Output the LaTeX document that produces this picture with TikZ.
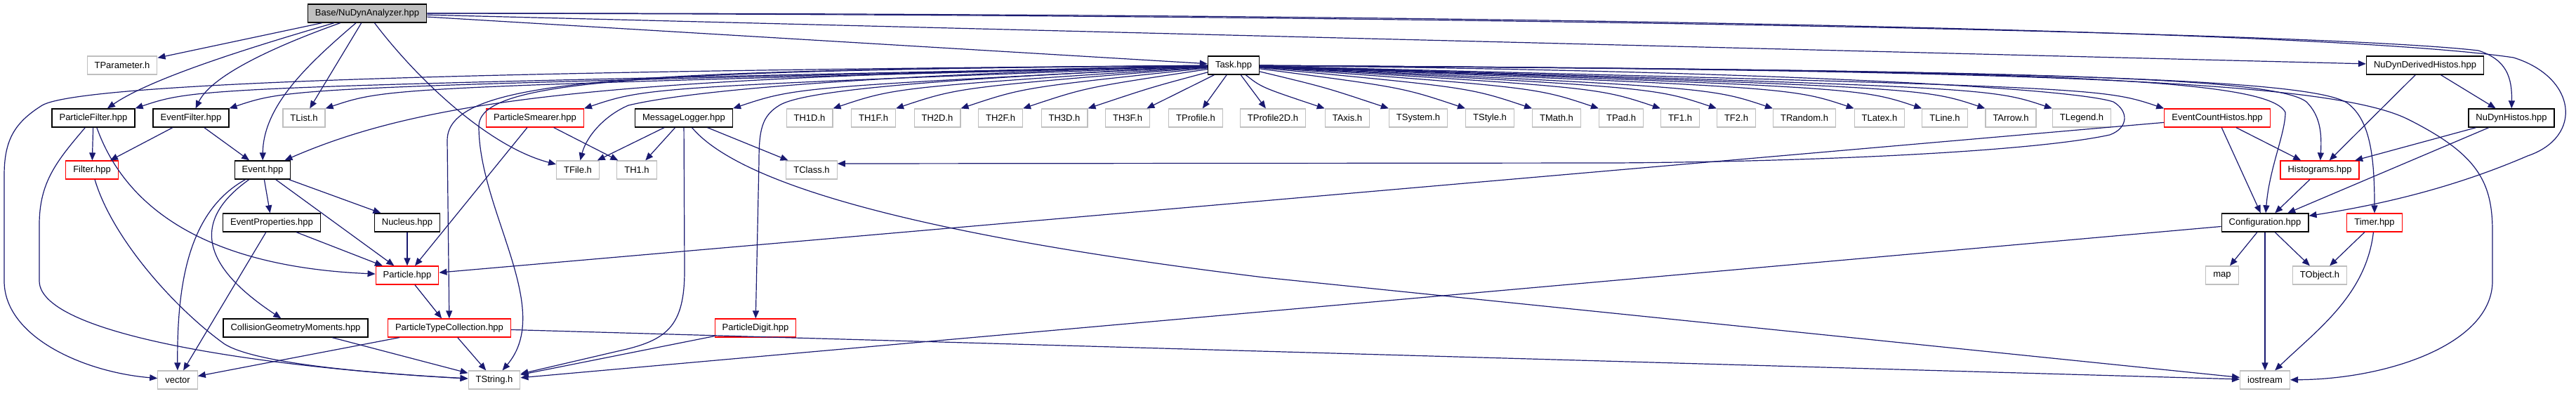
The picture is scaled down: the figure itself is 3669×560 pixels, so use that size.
\documentclass[tikz,border=0pt]{standalone}
\usepackage{fontspec}
\setmainfont{Liberation Sans}
\usetikzlibrary{arrows.meta,calc}
\definecolor{edgec}{HTML}{191970}
\definecolor{sysborder}{HTML}{BFBFBF}
\definecolor{truncborder}{HTML}{FF0000}
\definecolor{rootfill}{HTML}{BFBFBF}

\begin{document}
\begin{tikzpicture}[
  x=1pt, y=-1pt,
  font=\fontsize{13}{15}\selectfont,
  box/.style={
    draw=#1,
    fill=white,
    line width=1.2pt,
    minimum height=26pt,
    inner xsep=10.5pt,
    inner ysep=0pt,
    text=black
  },
  hdr/.style={box=black, line width=1.4pt},
  sys/.style={box=sysborder},
  trunc/.style={box=truncborder},
  arr/.style={
    -{Triangle[length=11pt,width=9pt]},
    line width=1.2pt,
    draw=edgec
  }
]
\useasboundingbox (0,0) rectangle (3669,560);

% --- rows 0 and 1 ---
\node[hdr, fill=rootfill] (base) at (523,19) {Base/NuDynAnalyzer.hpp};
\node[sys] (tparam) at (174,93) {TParameter.h};
\node[hdr] (task) at (1757,93) {Task.hpp};
\node[hdr] (nddh) at (3454,93) {NuDynDerivedHistos.hpp};

% --- row 2 ---
\node[hdr] (pfilt) at (133,168) {ParticleFilter.hpp};
\node[hdr] (efilt) at (272,168) {EventFilter.hpp};
\node[sys] (tlist) at (433,168) {TList.h};
\node[trunc] (psmear) at (762,168) {ParticleSmearer.hpp};
\node[hdr] (mlog) at (974,168) {MessageLogger.hpp};
\foreach \nm/\x/\txt in {th1d/1153/TH1D.h, th1f/1244/TH1F.h, th2d/1335/TH2D.h,
    th2f/1425/TH2F.h, th3d/1516/TH3D.h, th3f/1606/TH3F.h, tprof/1703/TProfile.h,
    tprof2d/1813/TProfile2D.h, taxis/1919/TAxis.h, tsystem/2020/TSystem.h,
    tstyle/2122/TStyle.h, tmath/2217/TMath.h, tpad/2309/TPad.h, tf1/2393/TF1.h,
    tf2/2473/TF2.h, trandom/2570/TRandom.h, tlatex/2677/TLatex.h, tline/2770/TLine.h,
    tarrow/2864/TArrow.h, tlegend/2965/TLegend.h}
  \node[sys] (\nm) at (\x,168) {\txt};
\node[trunc] (ech) at (3158,168) {EventCountHistos.hpp};
\node[hdr] (ndh) at (3577,168) {NuDynHistos.hpp};

% --- row 3 ---
\node[trunc] (filter) at (131,242) {Filter.hpp};
\node[hdr] (event) at (374,242) {Event.hpp};
\node[sys] (tfile) at (823,242) {TFile.h};
\node[sys] (th1) at (907,242) {TH1.h};
\node[sys] (tclass) at (1156,242) {TClass.h};
\node[trunc] (histo) at (3304,242) {Histograms.hpp};

% --- row 4 ---
\node[hdr] (evprop) at (387,317) {EventProperties.hpp};
\node[hdr] (nucleus) at (580,317) {Nucleus.hpp};
\node[hdr] (config) at (3226,317) {Configuration.hpp};
\node[trunc] (timer) at (3382,317) {Timer.hpp};

% --- row 5 ---
\node[trunc] (particle) at (580,392) {Particle.hpp};
\node[sys] (map) at (3165,392) {map};
\node[sys] (tobject) at (3304,392) {TObject.h};

% --- row 6 ---
\node[hdr] (cgm) at (421,467) {CollisionGeometryMoments.hpp};
\node[trunc] (ptc) at (640,467) {ParticleTypeCollection.hpp};
\node[trunc] (pdigit) at (1076,467) {ParticleDigit.hpp};

% --- row 7 ---
\node[sys] (vector) at (253,541) {vector};
\node[sys] (tstring) at (704,541) {TString.h};
\node[sys] (iostream) at (3226,541) {iostream};

% --- includes of the root file ---
\draw[arr] (base) -- (tparam);
\draw[arr] (base) .. controls (330,75) and (210,115) .. (pfilt);
\draw[arr] (base) .. controls (380,70) and (300,110) .. (efilt);
\draw[arr] (base) .. controls (440,90) and (375,150) .. (event);
\draw[arr] (base) -- (tlist);
\draw[arr] (base) .. controls (600,120) and (700,210) .. (tfile);
\draw[arr] (base) -- (task);
\draw[arr] (base) -- (nddh);
\draw[arr] (base) .. controls (2000,20) and (3300,45) .. (3530,72)
  .. controls (3570,85) and (3578,110) .. (ndh);
\draw[arr] (base) .. controls (2000,18) and (3300,40) .. (3580,82)
  .. controls (3670,110) and (3680,195) .. (3600,222)
  .. controls (3500,265) and (3400,290) .. (config);

% --- Task.hpp fan ---
\foreach \dst in {pfilt,efilt,tlist,psmear,mlog,th1d,th1f,th2d,th2f,th3d}
  \draw[arr] (task) .. controls ($(\dst.north east)+(90,-30)$) .. (\dst.north east);
\foreach \dst in {th3f,tprof,tprof2d}
  \draw[arr] (task) -- (\dst);
\foreach \dst in {taxis,tsystem,tstyle,tmath,tpad,tf1,tf2,trandom,tlatex,tline,tarrow,tlegend,ech}
  \draw[arr] (task) .. controls ($(\dst.north west)+(-90,-30)$) .. (\dst.north west);

\draw[arr] (task) .. controls (900,110) and (620,135) .. (event);
\draw[arr] (task) .. controls (800,100) and (120,115) .. (60,150)
  .. controls (20,175) and (6,200) .. (6,250) -- (6,400)
  .. controls (6,480) and (120,530) .. (vector);
\draw[arr] (task) .. controls (1300,105) and (1000,125) .. (895,150)
  .. controls (860,165) and (835,195) .. (tfile);
\draw[arr] (task) .. controls (900,100) and (637,110) .. (637,200) -- (ptc);
\draw[arr] (task) .. controls (900,100) and (682,115) .. (682,180)
  .. controls (682,300) and (790,440) .. (tstring);
\draw[arr] (task) .. controls (1400,110) and (1150,125) .. (1110,150)
  .. controls (1085,165) and (1081,185) .. (1081,230) -- (pdigit);
\draw[arr] (task) .. controls (2500,100) and (2950,125) .. (3010,145)
  .. controls (3032,158) and (3032,182) .. (3005,192)
  .. controls (2900,215) and (2600,230) .. (2300,232) -- ($(tclass.east)+(0,-9)$);
\draw[arr] (task) .. controls (2900,100) and (3240,110) .. (3285,145)
  .. controls (3305,165) and (3307,190) .. (histo);
\draw[arr] (task) .. controls (2900,100) and (3230,110) .. (3255,160)
  .. controls (3255,190) and (3232,240) .. (config);
\draw[arr] (task) .. controls (2900,100) and (3300,112) .. (3345,148)
  .. controls (3375,172) and (3382,220) .. (timer);
\draw[arr] (task) .. controls (2900,100) and (3320,115) .. (3430,170)
  .. controls (3530,220) and (3550,260) .. (3550,330) -- (3550,400)
  .. controls (3550,490) and (3400,540) .. (iostream);

% --- MessageLogger.hpp ---
\draw[arr] (mlog) -- (tfile);
\draw[arr] (mlog) -- (th1);
\draw[arr] (mlog) -- (tclass);
\draw[arr] (mlog) -- (975,385) .. controls (975,465) and (950,485) .. (880,500) -- (tstring);
\draw[arr] (mlog) .. controls (1060,270) and (1350,340) .. (1800,395) -- (iostream);

% --- filters and events ---
\draw[arr] (pfilt) -- (filter);
\draw[arr] (pfilt) .. controls (180,300) and (300,380) .. (particle);
\draw[arr] (pfilt) .. controls (80,230) and (56,260) .. (56,320) -- (56,400)
  .. controls (56,480) and (400,525) .. (tstring);
\draw[arr] (efilt) -- (filter);
\draw[arr] (efilt) -- (event);
\draw[arr] (filter) .. controls (160,340) and (250,440) .. (320,490)
  .. controls (360,515) and (500,530) .. (tstring);
\draw[arr] (event) -- (evprop);
\draw[arr] (event) -- (nucleus);
\draw[arr] (event) -- (particle);
\draw[arr] (event) .. controls (270,300) and (252,400) .. (vector);
\draw[arr] (event) .. controls (250,330) and (320,400) .. (cgm);
\draw[arr] (evprop) -- (particle);
\draw[arr] (evprop) -- (vector);
\draw[arr] (nucleus) -- (particle);
\draw[arr] (particle) -- (ptc);
\draw[arr] (cgm) -- (tstring);
\draw[arr] (ptc) -- (vector);
\draw[arr] (ptc) -- (tstring);
\draw[arr] (ptc) -- (iostream);
\draw[arr] (psmear) -- (particle);
\draw[arr] (psmear) -- (th1);
\draw[arr] (pdigit) -- (tstring);

% --- histograms and configuration ---
\draw[arr] (ech) -- (particle);
\draw[arr] (ech) -- (histo);
\draw[arr] (ech) -- (config);
\draw[arr] (nddh) -- (histo);
\draw[arr] (nddh) -- (ndh);
\draw[arr] (ndh) -- (histo);
\draw[arr] (ndh) -- (config);
\draw[arr] (histo) -- (config);
\draw[arr] (config) -- (map);
\draw[arr] (config) -- (tobject);
\draw[arr] (config) -- (iostream);
\draw[arr] (config) -- (tstring);
\draw[arr] (timer) -- (tobject);
\draw[arr] (timer) .. controls (3370,420) and (3300,470) .. (iostream);

\end{tikzpicture}
\end{document}
